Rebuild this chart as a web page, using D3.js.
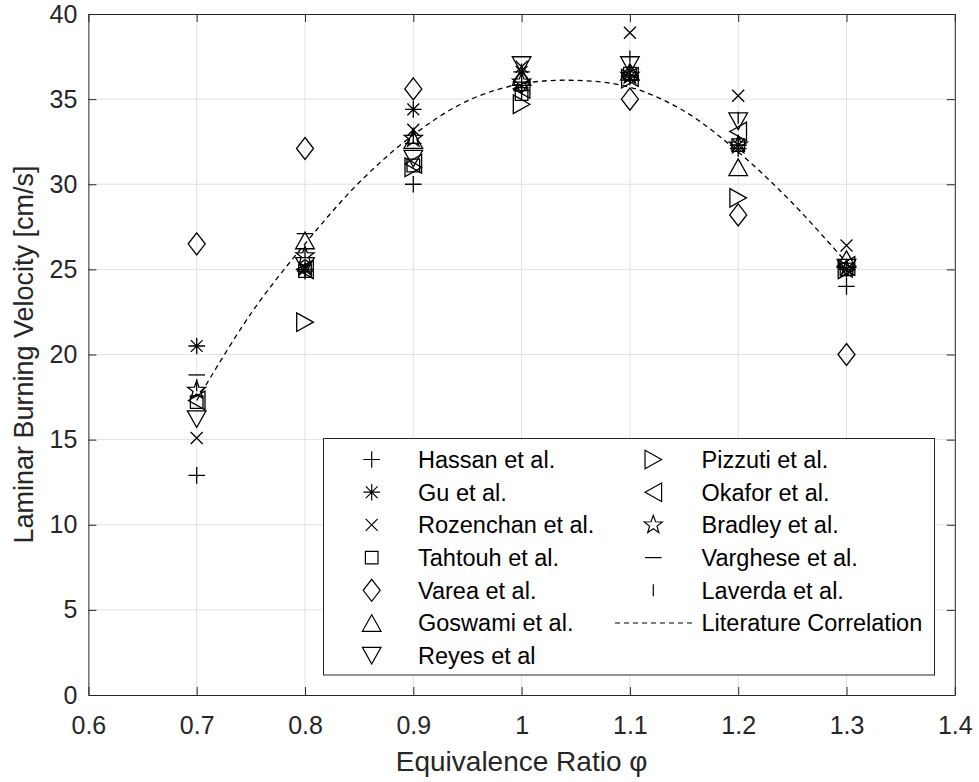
<!DOCTYPE html>
<html>
<head>
<meta charset="utf-8">
<script src="https://cdn.jsdelivr.net/npm/d3@7"></script>
<style>
  html, body { margin: 0; padding: 0; background: #fff; }
  svg { display: block; font-family: "Liberation Sans", Arial, Helvetica, sans-serif; }
</style>
</head>
<body>
<svg id="chart" width="979" height="782"></svg>
<script>
// ---------------- data ----------------
const phi = [0.7, 0.8, 0.9, 1.0, 1.1, 1.2, 1.3];

const hassan    = [12.9, 24.9, 30.0, 35.5, 36.4, 32.1, 24.0];
const gu        = [20.5, 25.0, 34.4, 36.6, 36.3, 32.3, 25.0];
const rozenchan = [15.1, 25.1, 33.2, 36.9, 38.9, 35.2, 26.4];
const tahtouh   = [17.2, 24.9, 31.1, 35.3, 36.5, 32.3, 25.0];
const varea     = [26.5, 32.1, 35.6, 36.0, 35.0, 28.2, 20.0];
const goswami   = [null, 26.7, 32.6, 36.3, 36.6, 31.0, 25.6];
const reyes     = [16.2, 25.2, 31.5, 37.0, 37.0, 33.7, 25.1];
const pizzuti   = [null, 21.9, 31.0, 34.7, 36.2, 29.2, 25.0];
const okafor    = [17.3, 25.0, 31.2, 35.6, 36.3, 33.1, 25.2];
const bradley   = [17.9, 25.8, 32.7, 36.0, 36.4, 32.3, 25.0];
const varghese  = [18.8, 27.1, 32.4, 36.0, 36.4, 32.3, 25.0];
const laverda   = [18.2, 26.0, 32.8, 35.8, 37.5, 33.9, 25.0];

const corrPhi = [0.7, 0.75, 0.8, 0.85, 0.9, 0.95, 1.0, 1.05, 1.1, 1.15, 1.2, 1.25, 1.3];
const corrSu  = [17.3, 22.4, 26.5, 30.1, 32.9, 34.9, 35.9, 36.1, 35.7, 34.3, 31.9, 28.9, 25.4];

const seriesNames = ["Hassan et al.", "Gu et al.", "Rozenchan et al.", "Tahtouh et al.",
  "Varea et al.", "Goswami et al.", "Reyes et al", "Pizzuti et al.", "Okafor et al.",
  "Bradley et al.", "Varghese et al.", "Laverda et al."];
const seriesMarkers = ["plus", "asterisk", "cross", "square", "diamond", "up", "down",
  "right", "left", "star", "hline", "vline"];
const seriesValues = [hassan, gu, rozenchan, tahtouh, varea, goswami, reyes, pizzuti,
  okafor, bradley, varghese, laverda];
const corrName = "Literature Correlation";

const xTicks = [0.6, 0.7, 0.8, 0.9, 1.0, 1.1, 1.2, 1.3, 1.4];
const xTickLabels = ["0.6", "0.7", "0.8", "0.9", "1", "1.1", "1.2", "1.3", "1.4"];
const yTicks = [0, 5, 10, 15, 20, 25, 30, 35, 40];
const yTickLabels = ["0", "5", "10", "15", "20", "25", "30", "35", "40"];

// ---------------- layout ----------------
const L = 88.4, R = 954.8, T = 14, B = 695;
const textColor = "#262626";
const svg = d3.select("#chart");

const x = d3.scaleLinear().domain([0.6, 1.4]).range([L, R]);
const y = d3.scaleLinear().domain([0, 40]).range([B, T]);

// grid
const grid = svg.append("g");
grid.selectAll("line.gx").data(xTicks.slice(1, -1)).enter().append("line")
  .attr("x1", d => x(d)).attr("x2", d => x(d)).attr("y1", T).attr("y2", B)
  .attr("stroke", "#e2e2e2").attr("stroke-width", 1);
grid.selectAll("line.gy").data(yTicks.slice(1, -1)).enter().append("line")
  .attr("y1", d => y(d)).attr("y2", d => y(d)).attr("x1", L).attr("x2", R)
  .attr("stroke", "#e2e2e2").attr("stroke-width", 1);

// marker shapes
function markerPath(type) {
  const p = d3.path();
  switch (type) {
    case "plus": p.moveTo(-8.3, 0); p.lineTo(8.3, 0); p.moveTo(0, -8.3); p.lineTo(0, 8.3); break;
    case "asterisk": {
      const s = 8.3, d = 5.9;
      p.moveTo(-s, 0); p.lineTo(s, 0); p.moveTo(0, -s); p.lineTo(0, s);
      p.moveTo(-d, -d); p.lineTo(d, d); p.moveTo(-d, d); p.lineTo(d, -d); break;
    }
    case "cross": p.moveTo(-6, -6); p.lineTo(6, 6); p.moveTo(-6, 6); p.lineTo(6, -6); break;
    case "square": p.rect(-6.3, -6.3, 12.6, 12.6); break;
    case "diamond": p.moveTo(0, -11); p.lineTo(8.5, 0); p.lineTo(0, 11); p.lineTo(-8.5, 0); p.closePath(); break;
    case "up": p.moveTo(0, -8.3); p.lineTo(9.3, 8.3); p.lineTo(-9.3, 8.3); p.closePath(); break;
    case "down": p.moveTo(0, 8.3); p.lineTo(9.3, -8.3); p.lineTo(-9.3, -8.3); p.closePath(); break;
    case "right": p.moveTo(8.3, 0); p.lineTo(-8.3, -9.3); p.lineTo(-8.3, 9.3); p.closePath(); break;
    case "left": p.moveTo(-8.3, 0); p.lineTo(8.3, -9.3); p.lineTo(8.3, 9.3); p.closePath(); break;
    case "star": {
      const ro = 9.5, ri = 3.9;
      for (let k = 0; k < 10; k++) {
        const r = k % 2 === 0 ? ro : ri;
        const a = -Math.PI / 2 + k * Math.PI / 5;
        const px = r * Math.cos(a), py = r * Math.sin(a);
        if (k === 0) p.moveTo(px, py); else p.lineTo(px, py);
      }
      p.closePath(); break;
    }
    case "hline": p.moveTo(-8.3, 0); p.lineTo(8.3, 0); break;
    case "vline": p.moveTo(0, -6); p.lineTo(0, 6); break;
  }
  return p.toString();
}

// correlation line
const line = d3.line().x(d => x(d[0])).y(d => y(d[1])).curve(d3.curveCatmullRom.alpha(0.5));
svg.append("path")
  .datum(corrPhi.map((p, i) => [p, corrSu[i]]))
  .attr("d", line)
  .attr("fill", "none").attr("stroke", "#000").attr("stroke-width", 1.3)
  .attr("stroke-dasharray", "5,4");

// markers
seriesValues.forEach((vals, si) => {
  const pts = phi.map((p, i) => [p, vals[i]]).filter(d => d[1] !== null);
  svg.append("g").selectAll("path").data(pts).enter().append("path")
    .attr("transform", d => `translate(${x(d[0])},${y(d[1])})`)
    .attr("d", markerPath(seriesMarkers[si]))
    .attr("fill", "none").attr("stroke", "#000").attr("stroke-width", 1.3);
});

// axes
const fs = 25;
const xAxis = svg.append("g").attr("transform", `translate(0,${B})`)
  .call(d3.axisBottom(x).tickValues(xTicks).tickFormat((d, i) => xTickLabels[i])
    .tickSizeInner(-8).tickSizeOuter(0).tickPadding(21));
const yAxis = svg.append("g").attr("transform", `translate(${L},0)`)
  .call(d3.axisLeft(y).tickValues(yTicks).tickFormat((d, i) => yTickLabels[i])
    .tickSizeInner(-8).tickSizeOuter(0).tickPadding(11));
const xTop = svg.append("g").attr("transform", `translate(0,${T})`)
  .call(d3.axisTop(x).tickValues(xTicks).tickFormat("").tickSizeInner(-8).tickSizeOuter(0));
const yRight = svg.append("g").attr("transform", `translate(${R},0)`)
  .call(d3.axisRight(y).tickValues(yTicks).tickFormat("").tickSizeInner(-8).tickSizeOuter(0));
[xAxis, yAxis, xTop, yRight].forEach(g => {
  g.select(".domain").attr("stroke", textColor).attr("stroke-width", 1);
  g.selectAll(".tick line").attr("stroke", textColor).attr("stroke-width", 1);
  g.selectAll("text").attr("fill", textColor).attr("font-size", fs)
    .attr("font-family", '"Liberation Sans", Arial, Helvetica, sans-serif');
});

// axis labels
svg.append("text").attr("x", (L + R) / 2).attr("y", 771)
  .attr("text-anchor", "middle").attr("font-size", 28).attr("fill", textColor)
  .text("Equivalence Ratio φ");
svg.append("text").attr("transform", `translate(33,${(T + B) / 2}) rotate(-90)`)
  .attr("text-anchor", "middle").attr("font-size", 27).attr("fill", textColor)
  .text("Laminar Burning Velocity [cm/s]");

// legend
const lg = svg.append("g");
lg.append("rect").attr("x", 323.5).attr("y", 438.5).attr("width", 611).attr("height", 236.5)
  .attr("fill", "#fff").attr("stroke", textColor).attr("stroke-width", 1);
const rowY0 = 459.5, rowDy = 32.7, lfs = 23.5;
seriesNames.forEach((name, i) => {
  const col = i < 7 ? 0 : 1;
  const row = i < 7 ? i : i - 7;
  const mx = col === 0 ? 371.7 : 653.3;
  const tx = col === 0 ? 418 : 701.5;
  const cy = rowY0 + row * rowDy;
  lg.append("path").attr("transform", `translate(${mx},${cy})`)
    .attr("d", markerPath(seriesMarkers[i]))
    .attr("fill", "none").attr("stroke", "#000").attr("stroke-width", 1.2);
  lg.append("text").attr("x", tx).attr("y", cy).attr("dy", "0.36em")
    .attr("font-size", lfs).attr("fill", "#000").text(name);
});
{
  const cy = rowY0 + 5 * rowDy;
  lg.append("line").attr("x1", 615).attr("x2", 693).attr("y1", cy).attr("y2", cy)
    .attr("stroke", "#000").attr("stroke-width", 1.2).attr("stroke-dasharray", "5,4");
  lg.append("text").attr("x", 701.5).attr("y", cy).attr("dy", "0.36em")
    .attr("font-size", lfs).attr("fill", "#000").text(corrName);
}
</script>
</body>
</html>
